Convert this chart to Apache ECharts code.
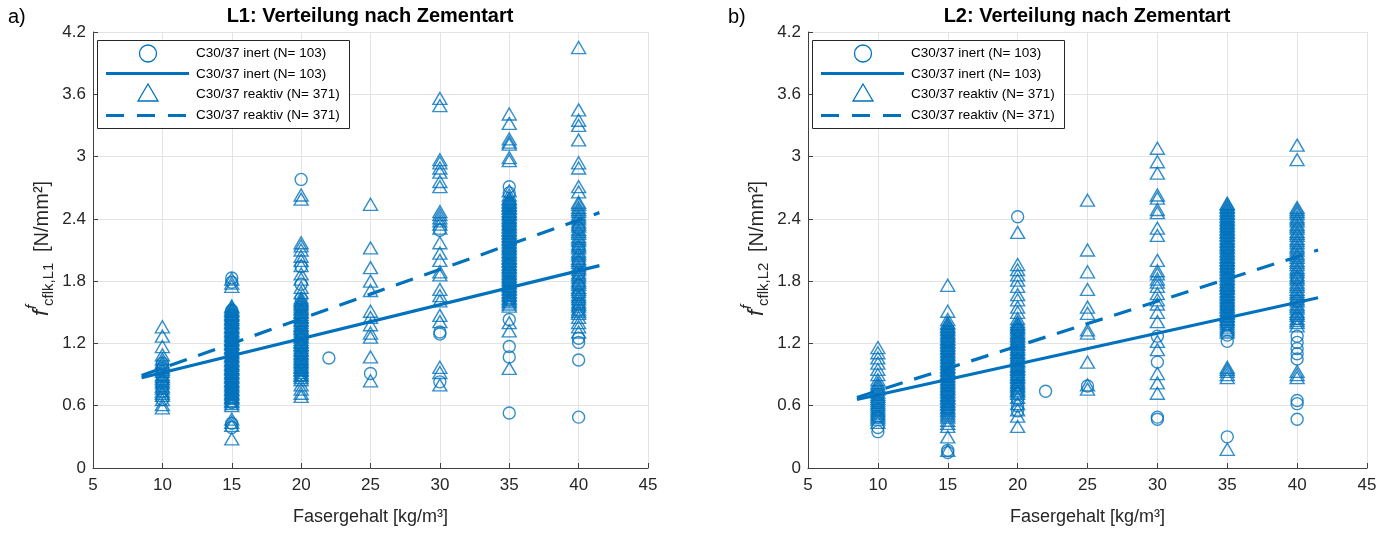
<!DOCTYPE html>
<html><head><meta charset="utf-8">
<script src="https://cdn.jsdelivr.net/npm/echarts@6/dist/echarts.min.js"></script>
<style>html,body{margin:0;padding:0;background:#fff}#c{width:1391px;height:540px}</style>
</head><body><div id="c"></div><script>
// ---------------- data ----------------
const fiberLevels = [10, 15, 20, 22, 25, 30, 35, 40];
const xTicks = [5, 10, 15, 20, 25, 30, 35, 40, 45];
const yTicks = [0, 0.6, 1.2, 1.8, 2.4, 3, 3.6, 4.2];

const legendNames = ['C30/37 inert (N= 103)', 'C30/37 inert (N= 103)', 'C30/37 reaktiv (N= 371)', 'C30/37 reaktiv (N= 371)'];
const titles = ['L1: Verteilung nach Zementart', 'L2: Verteilung nach Zementart'];
const panelTags = ['a)', 'b)'];
const ySubscripts = ['cflk,L1', 'cflk,L2'];
const xName = 'Fasergehalt [kg/m³]';

// L1 — values per fibre level (same order as fiberLevels)
const L1_inert = [
  [1.01, 0.96, 0.89, 0.83, 0.79, 0.74, 0.66],
  [1.83, 1.79, 1.52, 1.47, 1.41, 1.36, 1.29, 1.23, 1.17, 1.12, 1.08, 1.03, 0.99, 0.94, 0.91, 0.86, 0.81, 0.77, 0.72, 0.68, 0.63, 0.43, 0.39],
  [2.78, 1.94, 1.77, 1.63, 1.55, 1.46, 1.39, 1.31, 1.24, 1.17, 1.09, 1.02, 0.95, 0.89],
  [1.06],
  [0.91],
  [2.29, 1.31, 1.29, 0.83],
  [2.71, 2.65, 2.55, 2.41, 2.33, 2.18, 2.07, 1.96, 1.88, 1.79, 1.71, 1.62, 1.43, 1.17, 1.07, 0.53],
  [2.31, 2.12, 1.98, 1.87, 1.76, 1.67, 1.58, 1.52, 1.25, 1.21, 1.04, 0.49]
];
const L1_reaktiv = [
  [1.36, 1.27, 1.17, 1.09, 1.05, 1.02, 1.0, 0.97, 0.95, 0.93, 0.9, 0.88, 0.86, 0.84, 0.82, 0.79, 0.77, 0.74, 0.72, 0.7, 0.66, 0.61, 0.58],
  [1.82, 1.78, 1.75, 1.56, 1.55, 1.53, 1.52, 1.51, 1.49, 1.48, 1.47, 1.45, 1.44, 1.43, 1.41, 1.40, 1.39, 1.37, 1.36, 1.35, 1.33, 1.32, 1.31, 1.29, 1.28, 1.27, 1.25, 1.24, 1.23, 1.21, 1.20, 1.19, 1.17, 1.16, 1.15, 1.13, 1.12, 1.11, 1.09, 1.08, 1.07, 1.05, 1.04, 1.03, 1.01, 1.00, 0.99, 0.97, 0.96, 0.95, 0.93, 0.92, 0.91, 0.89, 0.88, 0.87, 0.85, 0.84, 0.83, 0.81, 0.80, 0.79, 0.77, 0.76, 0.75, 0.73, 0.72, 0.71, 0.69, 0.68, 0.67, 0.65, 0.64, 0.62, 0.60, 0.47, 0.44, 0.41, 0.28],
  [2.63, 2.59, 2.17, 2.14, 2.1, 2.04, 2.0, 1.95, 1.87, 1.82, 1.74, 1.69, 1.64, 1.62, 1.61, 1.59, 1.58, 1.56, 1.54, 1.53, 1.51, 1.5, 1.48, 1.46, 1.45, 1.43, 1.42, 1.4, 1.38, 1.37, 1.35, 1.34, 1.32, 1.3, 1.29, 1.27, 1.26, 1.24, 1.22, 1.21, 1.19, 1.18, 1.16, 1.14, 1.13, 1.11, 1.1, 1.08, 1.06, 1.05, 1.03, 1.02, 1.0, 0.98, 0.97, 0.95, 0.94, 0.92, 0.9, 0.89, 0.87, 0.85, 0.8, 0.76, 0.72, 0.69],
  [],
  [2.54, 2.12, 1.93, 1.8, 1.71, 1.51, 1.45, 1.38, 1.3, 1.26, 1.07, 0.84],
  [3.56, 3.49, 2.97, 2.94, 2.89, 2.85, 2.76, 2.71, 2.47, 2.44, 2.41, 2.38, 2.35, 2.31, 2.17, 2.07, 2.0, 1.89, 1.86, 1.72, 1.66, 1.61, 1.47, 1.41, 0.97, 0.92, 0.8],
  [3.41, 3.32, 3.17, 3.14, 3.12, 2.99, 2.96, 2.67, 2.63, 2.6, 2.59, 2.57, 2.56, 2.54, 2.53, 2.51, 2.5, 2.48, 2.47, 2.45, 2.44, 2.42, 2.41, 2.39, 2.38, 2.36, 2.35, 2.33, 2.32, 2.3, 2.29, 2.27, 2.26, 2.24, 2.23, 2.21, 2.2, 2.18, 2.17, 2.15, 2.14, 2.12, 2.11, 2.09, 2.08, 2.06, 2.05, 2.03, 2.02, 2.0, 1.99, 1.97, 1.96, 1.94, 1.93, 1.91, 1.9, 1.88, 1.87, 1.85, 1.84, 1.82, 1.81, 1.79, 1.78, 1.76, 1.75, 1.73, 1.72, 1.7, 1.69, 1.67, 1.66, 1.64, 1.63, 1.61, 1.6, 1.58, 1.56, 1.4, 1.32, 0.96],
  [4.05, 3.45, 3.35, 3.3, 3.16, 2.94, 2.89, 2.71, 2.66, 2.56, 2.54, 2.51, 2.49, 2.47, 2.44, 2.42, 2.4, 2.37, 2.35, 2.33, 2.3, 2.28, 2.26, 2.23, 2.21, 2.19, 2.16, 2.14, 2.12, 2.09, 2.07, 2.05, 2.02, 2.0, 1.98, 1.95, 1.93, 1.91, 1.88, 1.86, 1.84, 1.81, 1.79, 1.77, 1.74, 1.72, 1.7, 1.67, 1.65, 1.63, 1.6, 1.58, 1.56, 1.53, 1.51, 1.49, 1.45, 1.4, 1.36, 1.31]
];
const L1_fitInert = [[8.5, 0.87], [41.5, 1.95]];
const L1_fitReaktiv = [[8.5, 0.89], [41.5, 2.46]];

// L2
const L2_inert = [
  [0.71, 0.63, 0.56, 0.49, 0.39, 0.35],
  [1.31, 1.22, 1.13, 1.04, 0.96, 0.88, 0.8, 0.72, 0.64, 0.57, 0.17, 0.15],
  [2.42, 1.33, 1.21, 1.12, 1.04, 0.96, 0.88, 0.8, 0.72, 0.66, 0.6, 0.55],
  [0.74],
  [0.79],
  [1.27, 1.02, 0.49, 0.47],
  [2.31, 2.12, 1.93, 1.72, 1.55, 1.38, 1.28, 1.22, 0.3],
  [1.83, 1.61, 1.44, 1.27, 1.21, 1.15, 1.1, 1.05, 0.65, 0.62, 0.47]
];
const L2_reaktiv = [
  [1.16, 1.11, 1.06, 1.01, 0.95, 0.9, 0.85, 0.82, 0.8, 0.78, 0.76, 0.73, 0.71, 0.69, 0.67, 0.65, 0.63, 0.61, 0.59, 0.57, 0.55, 0.53, 0.51, 0.49, 0.47, 0.44],
  [1.76, 1.51, 1.43, 1.4, 1.39, 1.37, 1.36, 1.34, 1.33, 1.31, 1.3, 1.28, 1.27, 1.25, 1.24, 1.22, 1.21, 1.19, 1.18, 1.16, 1.15, 1.13, 1.12, 1.1, 1.09, 1.07, 1.06, 1.04, 1.03, 1.01, 1.0, 0.98, 0.97, 0.95, 0.94, 0.92, 0.91, 0.89, 0.88, 0.86, 0.85, 0.83, 0.82, 0.8, 0.79, 0.77, 0.76, 0.74, 0.73, 0.71, 0.7, 0.68, 0.67, 0.65, 0.64, 0.62, 0.61, 0.59, 0.58, 0.56, 0.55, 0.53, 0.51, 0.49, 0.46, 0.43, 0.4, 0.3, 0.17],
  [2.27, 1.96, 1.91, 1.86, 1.81, 1.75, 1.67, 1.62, 1.55, 1.5, 1.44, 1.41, 1.39, 1.38, 1.36, 1.35, 1.33, 1.31, 1.3, 1.28, 1.27, 1.25, 1.23, 1.22, 1.2, 1.19, 1.17, 1.15, 1.14, 1.12, 1.11, 1.09, 1.07, 1.06, 1.04, 1.03, 1.01, 0.99, 0.98, 0.96, 0.95, 0.93, 0.91, 0.9, 0.88, 0.87, 0.85, 0.83, 0.82, 0.8, 0.79, 0.77, 0.75, 0.74, 0.72, 0.68, 0.62, 0.56, 0.5, 0.4],
  [],
  [2.58, 2.1, 1.89, 1.72, 1.55, 1.49, 1.33, 1.3, 1.02, 0.8, 0.76],
  [3.08, 2.95, 2.84, 2.63, 2.6, 2.49, 2.46, 2.31, 2.24, 2.0, 1.9, 1.87, 1.82, 1.79, 1.75, 1.68, 1.62, 1.58, 1.5, 1.41, 1.22, 1.14, 0.91, 0.82, 0.72],
  [2.55, 2.54, 2.52, 2.51, 2.49, 2.48, 2.46, 2.45, 2.43, 2.42, 2.4, 2.39, 2.37, 2.36, 2.34, 2.33, 2.31, 2.3, 2.28, 2.27, 2.25, 2.24, 2.22, 2.21, 2.19, 2.18, 2.16, 2.15, 2.13, 2.12, 2.1, 2.09, 2.07, 2.06, 2.04, 2.03, 2.01, 2.0, 1.98, 1.97, 1.95, 1.94, 1.92, 1.91, 1.89, 1.88, 1.86, 1.85, 1.83, 1.82, 1.8, 1.79, 1.77, 1.76, 1.74, 1.73, 1.71, 1.7, 1.68, 1.67, 1.65, 1.64, 1.62, 1.61, 1.59, 1.58, 1.56, 1.55, 1.53, 1.52, 1.5, 1.49, 1.47, 1.46, 1.44, 1.43, 1.41, 1.39, 1.37, 1.35, 1.33, 1.31, 0.97, 0.95, 0.93, 0.9, 0.87, 0.18],
  [3.11, 2.97, 2.51, 2.49, 2.47, 2.45, 2.42, 2.4, 2.38, 2.35, 2.33, 2.31, 2.28, 2.26, 2.24, 2.21, 2.19, 2.17, 2.14, 2.12, 2.1, 2.07, 2.05, 2.03, 2.0, 1.98, 1.96, 1.93, 1.91, 1.89, 1.86, 1.84, 1.82, 1.79, 1.77, 1.75, 1.72, 1.7, 1.68, 1.65, 1.63, 1.61, 1.58, 1.56, 1.54, 1.51, 1.49, 1.47, 1.44, 1.42, 1.4, 1.37, 0.93, 0.9, 0.87]
];
const L2_fitInert = [[8.5, 0.66], [41.5, 1.64]];
const L2_fitReaktiv = [[8.5, 0.68], [41.5, 2.10]];

// ---------------- styling / build ----------------
const FONT = '"Liberation Sans", Arial, Helvetica, sans-serif';
const BLUE = '#0072BD';
const TXT = '#262626';

function toPoints(groups) {
  const pts = [];
  groups.forEach((vals, i) => vals.forEach(v => pts.push([fiberLevels[i], v])));
  return pts;
}
function scatter(name, groups, symbol, size, idx) {
  return {
    type: 'scatter', name, xAxisIndex: idx, yAxisIndex: idx,
    data: toPoints(groups), symbol, symbolSize: size,
    itemStyle: { color: 'rgba(0,0,0,0)', borderColor: BLUE, borderWidth: 1.4 },
    emphasis: { disabled: true }, silent: true, z: 2, animation: false, large: false
  };
}
function fit(name, pts, dashed, idx) {
  return {
    type: 'line', name, xAxisIndex: idx, yAxisIndex: idx, data: pts,
    symbol: 'none', showSymbol: false, color: BLUE,
    lineStyle: { color: BLUE, width: 3.2, type: dashed ? [18, 12] : 'solid' },
    emphasis: { disabled: true }, silent: true, z: 5, animation: false
  };
}
function xAx(i) {
  return {
    type: 'value', gridIndex: i, min: xTicks[0], max: xTicks[xTicks.length - 1], interval: 5,
    axisLine: { show: true, onZero: false, lineStyle: { color: '#404040', width: 1 } },
    axisTick: { show: true, inside: true, length: 5, lineStyle: { color: '#404040' } },
    axisLabel: { color: TXT, fontSize: 17, fontFamily: FONT, margin: 9 },
    splitLine: { show: true, lineStyle: { color: '#e3e3e3', width: 1 } },
    name: xName, nameLocation: 'middle', nameGap: 40,
    nameTextStyle: { color: TXT, fontSize: 18, fontFamily: FONT }
  };
}
function yAx(i) {
  return {
    type: 'value', gridIndex: i, min: yTicks[0], max: yTicks[yTicks.length - 1], interval: 0.6,
    axisLine: { show: true, onZero: false, lineStyle: { color: '#404040', width: 1 } },
    axisTick: { show: true, inside: true, length: 5, lineStyle: { color: '#404040' } },
    axisLabel: { color: TXT, fontSize: 17, fontFamily: FONT, margin: 7,
      formatter: v => String(+v.toFixed(1)) },
    splitLine: { show: true, lineStyle: { color: '#e3e3e3', width: 1 } }
  };
}
function T(x, y, text, font, align, fill) {
  return { type: 'text', x, y, silent: true, z: 100,
    style: { text, font: font + ' ' + FONT, fill: fill || '#000', align, verticalAlign: 'middle', textAlign: align, textVerticalAlign: 'middle' } };
}
function legendBox(left) {
  const ix0 = left + 9, ix1 = left + 92, icx = left + 51, tx = left + 99;
  return [
    { type: 'rect', z: 99, silent: true, shape: { x: left + 0.5, y: 40.5, width: 252, height: 88 },
      style: { fill: '#fff', stroke: '#262626', lineWidth: 1 } },
    { type: 'circle', z: 100, silent: true, shape: { cx: icx, cy: 53.5, r: 8.5 },
      style: { fill: 'none', stroke: BLUE, lineWidth: 1.3 } },
    { type: 'line', z: 100, silent: true, shape: { x1: ix0, y1: 73.5, x2: ix1, y2: 73.5 },
      style: { stroke: BLUE, lineWidth: 3.2 } },
    { type: 'polygon', z: 100, silent: true, shape: { points: [[icx, 84], [icx + 10, 101], [icx - 10, 101]] },
      style: { fill: 'none', stroke: BLUE, lineWidth: 1.3 } },
    { type: 'line', z: 100, silent: true, shape: { x1: ix0, y1: 115.5, x2: ix1 - 3, y2: 115.5 },
      style: { stroke: BLUE, lineWidth: 3.2, lineDash: [18, 13] } },
    T(tx, 53, legendNames[0], '13.5px', 'left'),
    T(tx, 74, legendNames[1], '13.5px', 'left'),
    T(tx, 94.5, legendNames[2], '13.5px', 'left'),
    T(tx, 115.5, legendNames[3], '13.5px', 'left')
  ];
}
function yLabel(x, sub) {
  const st = (text, font) => ({ text, font: font + ' ' + FONT, fill: TXT, align: 'left', verticalAlign: 'middle', textAlign: 'left', textVerticalAlign: 'middle' });
  return {
    type: 'group', x, y: 316, rotation: Math.PI / 2, silent: true,
    children: [
      { type: 'text', x: 0, y: 0, style: st('f', 'italic 22px') },
      { type: 'text', x: 7, y: -10, style: st('f', 'italic 15px') },
      { type: 'text', x: 10, y: 7, style: st(sub, '15px') },
      { type: 'text', x: 64, y: 0, style: st('[N/mm²]', '20px') }
    ]
  };
}

const chart = echarts.init(document.getElementById('c'), null, { renderer: 'canvas' });
chart.setOption({
  animation: false,
  backgroundColor: '#fff',
  grid: [
    { left: 93, top: 32, width: 555, height: 436 },
    { left: 808, top: 32, width: 559, height: 436 }
  ],
  xAxis: [xAx(0), xAx(1)],
  yAxis: [yAx(0), yAx(1)],
  series: [
    scatter(legendNames[0], L1_inert, 'circle', 12, 0),
    fit(legendNames[1], L1_fitInert, false, 0),
    scatter(legendNames[2], L1_reaktiv, 'triangle', [14, 12], 0),
    fit(legendNames[3], L1_fitReaktiv, true, 0),
    scatter(legendNames[0], L2_inert, 'circle', 12, 1),
    fit(legendNames[1], L2_fitInert, false, 1),
    scatter(legendNames[2], L2_reaktiv, 'triangle', [14, 12], 1),
    fit(legendNames[3], L2_fitReaktiv, true, 1)
  ],
  graphic: [
    T(8, 17, panelTags[0], '20px', 'left'),
    T(728, 17, panelTags[1], '20px', 'left'),
    T(370, 16, titles[0], 'bold 20px', 'center'),
    T(1087, 16, titles[1], 'bold 20px', 'center'),
    yLabel(42, ySubscripts[0]),
    yLabel(757, ySubscripts[1])
  ].concat(legendBox(97), legendBox(812))
});
</script></body></html>
